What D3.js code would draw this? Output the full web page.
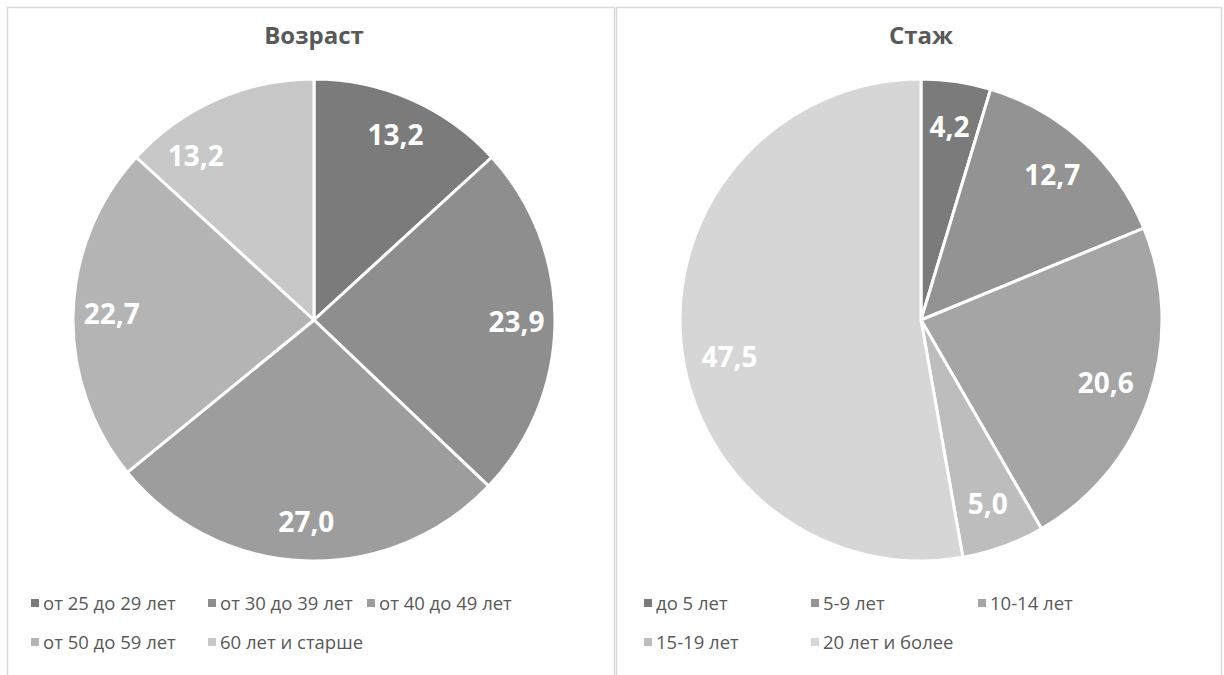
<!DOCTYPE html>
<html><head><meta charset="utf-8">
<script src="https://cdn.jsdelivr.net/npm/d3@7"></script>
<style>body{margin:0;background:#fff}svg{display:block}</style>
</head><body>
<svg id="c" width="1224" height="675"></svg>
<script>
// Data
const ageTitle = "Возраст";
const ageCategories = ["от 25 до 29 лет","от 30 до 39 лет","от 40 до 49 лет","от 50 до 59 лет","60 лет и старше"];
const ageValues = [13.2, 23.9, 27.0, 22.7, 13.2];
const ageColors = ["#7b7b7b","#8e8e8e","#9d9d9d","#b4b4b4","#c8c8c8"];

const expTitle = "Стаж";
const expCategories = ["до 5 лет","5-9 лет","10-14 лет","15-19 лет","20 лет и более"];
const expValues = [4.2, 12.7, 20.6, 5.0, 47.5];
const expColors = ["#7b7b7b","#939393","#a5a5a5","#bdbdbd","#d6d6d6"];

const svg = d3.select("#c");
const font = "'Open Sans', 'Noto Sans', sans-serif";
const fmt = v => d3.format(".1f")(v).replace(".", ",");

// panel borders
svg.append("rect").attr("x",7.5).attr("y",7.5).attr("width",607).attr("height",700)
  .attr("fill","none").attr("stroke","#d9d9d9").attr("stroke-width",1.5);
svg.append("rect").attr("x",616.5).attr("y",7.5).attr("width",605).attr("height",700)
  .attr("fill","none").attr("stroke","#d9d9d9").attr("stroke-width",1.5);

function drawPanel(opts){
  const g = svg.append("g");
  g.append("text").attr("x",opts.cx).attr("y",44).attr("text-anchor","middle")
    .attr("font-family",font).attr("font-weight","bold").attr("font-size",24)
    .attr("fill","#595959").text(opts.title);
  const R = 241;
  const pie = d3.pie().sort(null).value(d=>d);
  const arcs = pie(opts.values);
  const arc = d3.arc().innerRadius(0).outerRadius(R);
  const color = d3.scaleOrdinal().domain(d3.range(opts.values.length)).range(opts.colors);
  const pg = g.append("g").attr("transform",`translate(${opts.cx},${opts.cy})`);
  pg.selectAll("path").data(arcs).join("path")
    .attr("d",arc).attr("fill",(d,i)=>color(i))
    .attr("stroke","#fff").attr("stroke-width",3).attr("stroke-linejoin","round");
  const lr = R*opts.labelFrac;
  const labelPos = (d,i) => {
    const a = (d.startAngle + d.endAngle)/2 + ((opts.labelShift[i]||0)*Math.PI/180);
    return [lr*Math.sin(a), -lr*Math.cos(a)];
  };
  pg.selectAll("text").data(arcs).join("text")
    .attr("transform",(d,i)=>`translate(${labelPos(d,i)})`)
    .attr("text-anchor","middle").attr("dy","0.36em")
    .attr("font-family",font).attr("font-weight","bold").attr("font-size",28)
    .attr("fill","#fff").text(d=>fmt(d.data));
  // legend
  const lg = g.append("g");
  opts.categories.forEach((c,i)=>{
    const col = i % 3, row = Math.floor(i/3);
    const x = opts.legendX[col], y = 603 + row*39;
    lg.append("rect").attr("x",x).attr("y",y-4).attr("width",8).attr("height",8).attr("fill",color(i));
    lg.append("text").attr("x",x+12).attr("y",y).attr("dy","0.36em")
      .attr("font-family",font).attr("font-size",18.5).attr("fill","#595959").text(c);
  });
}

drawPanel({title:ageTitle, values:ageValues, categories:ageCategories, colors:ageColors,
  cx:314, cy:320, labelFrac:0.84, labelShift:{4:-12}, legendX:[31,208,367]});
drawPanel({title:expTitle, values:expValues, categories:expCategories, colors:expColors,
  cx:921, cy:320, labelFrac:0.81, labelShift:{4:-6}, legendX:[644,811,978]});
</script>
</body></html>
